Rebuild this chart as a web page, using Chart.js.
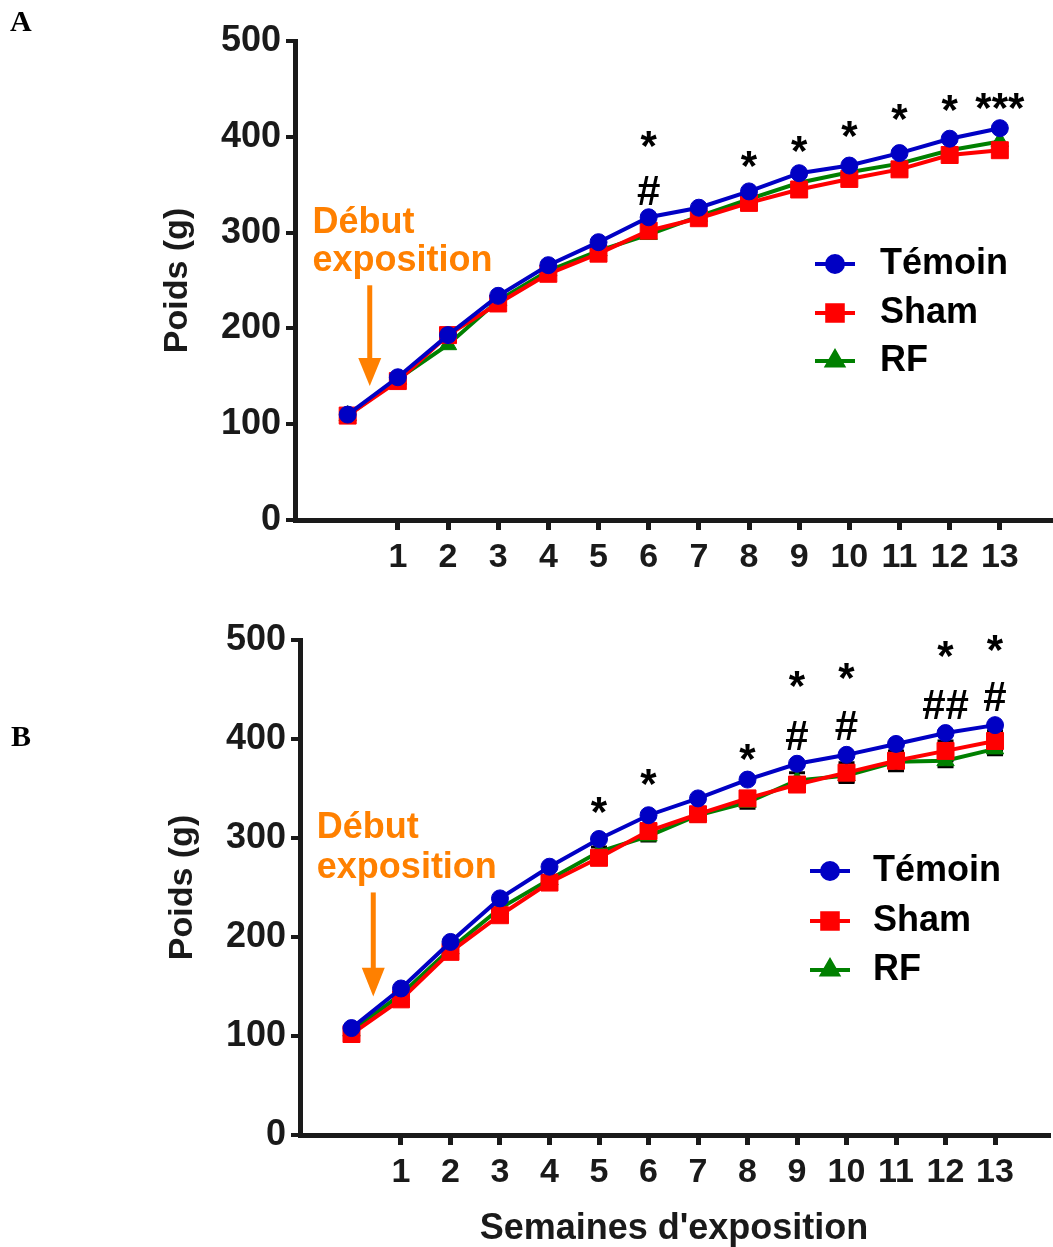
<!DOCTYPE html>
<html><head><meta charset="utf-8">
<script src="https://cdn.jsdelivr.net/npm/chart.js@4.4.0/dist/chart.umd.min.js"></script>
<style>
html,body{margin:0;padding:0;background:#fff;}
#wrap{position:relative;width:1053px;height:1247px;overflow:hidden;}
.panel{position:absolute;left:0;}
canvas{display:block;}
.lbl{position:absolute;font-family:"Liberation Serif","DejaVu Serif",serif;font-weight:bold;font-size:30px;color:#000;line-height:1;}
</style></head><body>
<div id="wrap">
<div class="panel" style="top:0;"><canvas id="cA" width="1063" height="600"></canvas></div>
<div class="panel" style="top:600px;"><canvas id="cB" width="1061" height="647"></canvas></div>
<div class="lbl" style="left:10px;top:6px">A</div>
<div class="lbl" style="left:11px;top:721px">B</div>
</div>
<script>
// ---- data ----
const weeks = [0,1,2,3,4,5,6,7,8,9,10,11,12,13];
const xTickLabels = [1,2,3,4,5,6,7,8,9,10,11,12,13];
const seriesNames = ['Témoin','Sham','RF'];

const temoinA = [110,149,193,234,266,290,316,326,343,362,370,383,398,409];
const shamA   = [109,145,193,226,257,278,302,315,331,345,356,366,381,386];
const rfA     = [109,147,183,229,260,281,298,317,335,352,363,372,386,395];

const temoinB = [108,148,195,239,271,299,323,340,359,375,384,395,406,414];
const shamB   = [102,137,185,222,255,280,307,324,340,354,366,378,388,398];
const rfB     = [105,142,188,229,258,286,302,323,336,358,363,377,378,390];
const semShamB = [2,3,3,4,4,5,5,6,6,7,10,10,10,10];
const semRfB   = [2,3,3,4,4,5,5,6,6,8,6,5,6,6];

const signifA_x = [6,6,8,9,10,11,12,13];
const signifA_y = [393,341,372,388,404,421,431,433];
const signifA_t = ['*','#','*','*','*','*','*','***'];

const signifB_x = [5,6,8,9,9,10,10,12,12,13,13];
const signifB_y = [329,357,382,456,401,464,411,486,432,493,440];
const signifB_t = ['*','*','*','*','#','*','#','*','##','*','#'];

const startText = ['Début','exposition'];

// ---- style ----
const FONT = '"Liberation Sans", Arial, sans-serif';
const DARK = '#1a1a1a';
const COLORS = ['#0000C4','#FF0000','#008000'];
const STYLES = ['circle','rect','triangle'];
const RADII = [8.5,12,10];
const ORANGE = '#FF8000';
const SIG_SIZE = 42;

const customPlugin = {
  id: 'custom',
  beforeDatasetsDraw(chart) {
    const ctx = chart.ctx, xs = chart.scales.x, ys = chart.scales.y;
    ctx.save();
    ctx.strokeStyle = '#000';
    ctx.lineWidth = 3;
    chart.data.datasets.forEach(ds => {
      if (!ds.sem) return;
      ds.data.forEach((v, i) => {
        const px = xs.getPixelForValue(weeks[i]);
        const t = ys.getPixelForValue(v.y + ds.sem[i]);
        const b = ys.getPixelForValue(v.y - ds.sem[i]);
        ctx.beginPath();
        ctx.moveTo(px, t); ctx.lineTo(px, b);
        ctx.moveTo(px - 8, t); ctx.lineTo(px + 8, t);
        ctx.moveTo(px - 8, b); ctx.lineTo(px + 8, b);
        ctx.stroke();
      });
    });
    ctx.restore();
  },
  afterDraw(chart) {
    const o = chart.options.plugins.custom;
    const ctx = chart.ctx, xs = chart.scales.x, ys = chart.scales.y;
    ctx.save();
    // significance marks
    ctx.fillStyle = '#000';
    ctx.font = 'bold ' + SIG_SIZE + 'px ' + FONT;
    ctx.textAlign = 'center';
    ctx.textBaseline = 'middle';
    o.sx.forEach((xv, i) => {
      const t = o.st[i];
      const dy = t.indexOf('*') >= 0 ? 0.12 * SIG_SIZE : 0;
      ctx.fillText(t, xs.getPixelForValue(xv), ys.getPixelForValue(o.sy[i]) + dy);
    });
    // orange start annotation
    ctx.fillStyle = ORANGE;
    ctx.font = 'bold 36px ' + FONT;
    ctx.textAlign = 'left';
    ctx.textBaseline = 'alphabetic';
    const tx = xs.getPixelForValue(-0.70);
    ctx.fillText(startText[0], tx, ys.getPixelForValue(300));
    ctx.fillText(startText[1], tx, ys.getPixelForValue(259.5));
    const ax = xs.getPixelForValue(0.44);
    const a1 = ys.getPixelForValue(245), a2 = ys.getPixelForValue(169), a3 = ys.getPixelForValue(140);
    ctx.strokeStyle = ORANGE; ctx.lineWidth = 5;
    ctx.beginPath(); ctx.moveTo(ax, a1); ctx.lineTo(ax, a2 + 1); ctx.stroke();
    ctx.beginPath(); ctx.moveTo(ax - 11.5, a2); ctx.lineTo(ax + 11.5, a2); ctx.lineTo(ax, a3); ctx.closePath(); ctx.fill();
    // legend
    ctx.font = 'bold 36px ' + FONT;
    ctx.textBaseline = 'middle';
    chart.data.datasets.forEach((ds, i) => {
      const y = o.legY[i];
      ctx.strokeStyle = ds.borderColor; ctx.lineWidth = 4;
      ctx.beginPath(); ctx.moveTo(o.legX1, y); ctx.lineTo(o.legX2, y); ctx.stroke();
      ctx.fillStyle = ds.borderColor;
      Chart.helpers.drawPoint(ctx, {pointStyle: STYLES[i], radius: [8,11,9][i], rotation: 0, borderWidth: 1}, (o.legX1 + o.legX2) / 2, y);
      ctx.fillStyle = '#000';
      ctx.fillText(ds.label, o.legTx, y);
    });
    ctx.restore();
  }
};

function makeChart(id, data, cfg) {
  const datasets = data.map((d, i) => ({
    label: seriesNames[i],
    data: weeks.map((w, j) => ({x: w, y: d[j]})),
    borderColor: COLORS[i], backgroundColor: COLORS[i],
    pointBackgroundColor: COLORS[i], pointBorderColor: COLORS[i],
    pointStyle: STYLES[i], pointRadius: RADII[i], pointBorderWidth: 1,
    borderWidth: 4, tension: 0, clip: false,
    sem: cfg.sem ? cfg.sem[i] : null
  }));
  return new Chart(document.getElementById(id), {
    type: 'line',
    data: {datasets},
    options: {
      responsive: false, animation: false,
      layout: {padding: {top: cfg.padTop, right: 0, left: 0, bottom: 0}},
      plugins: {
        legend: {display: false}, tooltip: {enabled: false},
        custom: {sx: cfg.sx, sy: cfg.sy, st: cfg.st, legY: cfg.legY, legX1: cfg.legX1, legX2: cfg.legX2, legTx: cfg.legTx}
      },
      scales: {
        x: {
          type: 'linear', min: cfg.xMin, max: cfg.xMax,
          afterBuildTicks: s => { s.ticks = xTickLabels.map(v => ({value: v})); },
          afterFit: s => { s.height = cfg.xH; s.paddingLeft = 0; s.paddingRight = 0; },
          ticks: {font: {family: FONT, size: 34, weight: 'bold'}, color: DARK, padding: 7, maxRotation: 0, autoSkip: false, callback: v => String(v)},
          grid: {display: true, drawOnChartArea: false, drawTicks: true, tickLength: 10, lineWidth: 5, color: DARK},
          border: {display: true, width: 5, color: DARK},
          title: {display: !!cfg.xTitle, text: cfg.xTitle || '', color: DARK, font: {family: FONT, size: 36, weight: 'bold', lineHeight: 1}, padding: {top: 0, bottom: 0}}
        },
        y: {
          min: 0, max: 500,
          afterFit: s => { s.width = cfg.yW; s.paddingTop = 0; s.paddingBottom = 0; },
          ticks: {stepSize: 100, font: {family: FONT, size: 36, weight: 'bold'}, color: DARK, padding: 5},
          grid: {display: true, drawOnChartArea: false, drawTicks: true, tickLength: 9, lineWidth: 4, color: DARK},
          border: {display: true, width: 5, color: DARK},
          title: {display: true, text: 'Poids (g)', color: DARK, font: {family: FONT, size: 34, weight: 'bold', lineHeight: 1}, padding: {top: cfg.yTitlePad, bottom: 0}}
        }
      }
    },
    plugins: [customPlugin]
  });
}

makeChart('cA', [temoinA, shamA, rfA], {
  padTop: 41, yW: 295, xH: 80, xMin: -1.05, xMax: 14.0,
  sx: signifA_x, sy: signifA_y, st: signifA_t,
  legY: [264, 313, 361], legX1: 815, legX2: 855, legTx: 880,
  yTitlePad: 161
});
makeChart('cB', [temoinB, shamB, rfB], {
  padTop: 40, yW: 300, xH: 112, xMin: -1.04, xMax: 14.07,
  sx: signifB_x, sy: signifB_y, st: signifB_t,
  legY: [271, 321, 370], legX1: 810, legX2: 850, legTx: 873,
  yTitlePad: 166, xTitle: "Semaines d'exposition",
  sem: [null, semShamB, semRfB]
});
</script>
</body></html>
